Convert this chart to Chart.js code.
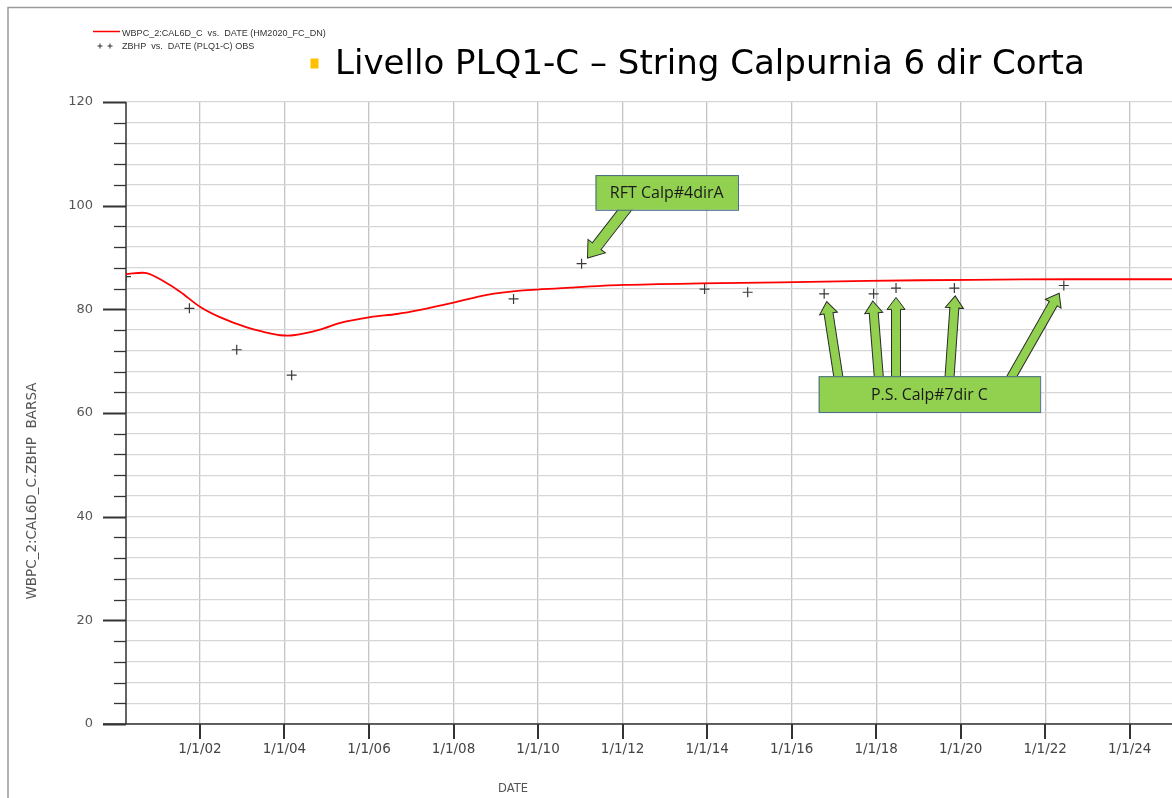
<!DOCTYPE html>
<html>
<head>
<meta charset="utf-8">
<title>Livello PLQ1-C</title>
<script src="https://cdn.jsdelivr.net/npm/chart.js@4.4.1/dist/chart.umd.min.js"></script>
<style>
  html, body { margin: 0; padding: 0; background: #fff; }
  #wrap { position: relative; width: 1172px; height: 798px; }
</style>
</head>
<body>
<div id="wrap"><canvas id="plqChart"></canvas></div>
<script>
// Simulated BHP (HM2020_FC_DN), x in decimal years
const simDates = [2000.25, 2000.74, 2001.12, 2001.53, 2002.0, 2002.47, 2003.11, 2003.58, 2003.90, 2004.21,
                  2004.84, 2005.32, 2006.03, 2006.66, 2007.21, 2008.0, 2008.79, 2009.58, 2010.77, 2012.02,
                  2013.85, 2015.74, 2017.8, 2020.29, 2022.6, 2025.0];
const simBarsa = [86.8, 87.0, 85.5, 83.4, 80.5, 78.5, 76.5, 75.5, 75.0, 75.0,
                  76.1, 77.4, 78.5, 79.1, 79.9, 81.3, 82.8, 83.6, 84.2, 84.7,
                  85.0, 85.2, 85.5, 85.7, 85.8, 85.8];

// Observed ZBHP (PLQ1-C OBS)
const obsDates = [2000.25, 2001.75, 2002.87, 2004.17, 2009.42, 2011.03, 2013.94, 2014.96, 2016.77, 2017.94, 2018.47, 2019.85, 2022.44];
const obsBarsa = [86.3, 80.2, 72.2, 67.3, 82.0, 88.8, 83.9, 83.3, 83.0, 83.0, 84.1, 84.1, 84.6];

// x axis ticks
const tickDates = [2002, 2004, 2006, 2008, 2010, 2012, 2014, 2016, 2018, 2020, 2022, 2024];
const tickLabels = ['1/1/02', '1/1/04', '1/1/06', '1/1/08', '1/1/10', '1/1/12', '1/1/14', '1/1/16', '1/1/18', '1/1/20', '1/1/22', '1/1/24'];

// callouts (box corners and arrows in data units: base -> tip)
const callouts = [
  { text: 'RFT Calp#4dirA', box: [2011.36, 105.9, 2014.73, 99.2],
    arrows: [[2012.15, 100.2, 2011.17, 89.9]] },
  { text: 'P.S. Calp#7dir C', box: [2016.64, 67.1, 2021.88, 60.2],
    arrows: [[2017.12, 66.2, 2016.83, 81.5], [2018.07, 66.2, 2017.92, 81.6], [2018.47, 66.2, 2018.47, 82.3],
             [2019.73, 66.2, 2019.87, 82.6], [2021.15, 66.2, 2022.33, 83.1]] }
];

function fitFont(ctx, text, family, targetW, base) {
  ctx.font = base + 'px ' + family;
  const w = ctx.measureText(text).width;
  ctx.font = (base * targetW / w).toFixed(2) + 'px ' + family;
}

function drawArrow(ctx, x0, y0, x1, y1, shaft, headW, headL) {
  const a = Math.atan2(y1 - y0, x1 - x0);
  const len = Math.hypot(x1 - x0, y1 - y0);
  ctx.save();
  ctx.translate(x0, y0);
  ctx.rotate(a);
  ctx.beginPath();
  ctx.moveTo(0, -shaft / 2);
  ctx.lineTo(len - headL, -shaft / 2);
  ctx.lineTo(len - headL, -headW / 2);
  ctx.lineTo(len, 0);
  ctx.lineTo(len - headL, headW / 2);
  ctx.lineTo(len - headL, shaft / 2);
  ctx.lineTo(0, shaft / 2);
  ctx.closePath();
  ctx.fillStyle = '#92d050';
  ctx.fill();
  ctx.strokeStyle = '#2b2b2b';
  ctx.lineWidth = 1;
  ctx.stroke();
  ctx.restore();
}

const decor = {
  id: 'decor',
  beforeDatasetsDraw(chart) {
    const ctx = chart.ctx, xs = chart.scales.x, ys = chart.scales.y;
    const area = chart.chartArea;
    ctx.save();
    ctx.strokeStyle = '#333';
    // y ticks
    for (let v = 0; v <= 120; v += 4) {
      const py = Math.round(ys.getPixelForValue(v)) + 0.5;
      const major = v % 20 === 0;
      ctx.lineWidth = major ? 2 : 1.3;
      ctx.beginPath();
      ctx.moveTo(major ? 103 : 114, py);
      ctx.lineTo(area.left, py);
      ctx.stroke();
    }
    // x ticks
    ctx.lineWidth = 2;
    tickDates.forEach(d => {
      const px = Math.round(xs.getPixelForValue(d));
      ctx.beginPath();
      ctx.moveTo(px, area.bottom);
      ctx.lineTo(px, area.bottom + 15);
      ctx.stroke();
    });
    // axis lines
    ctx.lineWidth = 1.5;
    ctx.beginPath();
    ctx.moveTo(area.left, area.top);
    ctx.lineTo(area.left, area.bottom);
    ctx.moveTo(103, area.bottom);
    ctx.lineTo(area.right, area.bottom);
    ctx.stroke();
    ctx.restore();
  },
  afterDraw(chart) {
    const ctx = chart.ctx, xs = chart.scales.x, ys = chart.scales.y;
    ctx.save();
    // outer frame
    ctx.strokeStyle = '#9a9a9a';
    ctx.lineWidth = 1.5;
    ctx.beginPath();
    ctx.moveTo(8, 798);
    ctx.lineTo(8, 7.5);
    ctx.lineTo(1172, 7.5);
    ctx.stroke();

    // legend
    ctx.strokeStyle = '#ff0000';
    ctx.lineWidth = 1.5;
    ctx.beginPath();
    ctx.moveTo(93, 31.5);
    ctx.lineTo(120, 31.5);
    ctx.stroke();
    ctx.strokeStyle = '#333';
    ctx.lineWidth = 1;
    [100, 110].forEach(cx => {
      ctx.beginPath();
      ctx.moveTo(cx - 2.5, 46); ctx.lineTo(cx + 2.5, 46);
      ctx.moveTo(cx, 43.5); ctx.lineTo(cx, 48.5);
      ctx.stroke();
    });
    ctx.fillStyle = '#333';
    ctx.textAlign = 'left';
    ctx.textBaseline = 'middle';
    const leg1 = 'WBPC_2:CAL6D_C  vs.  DATE (HM2020_FC_DN)';
    const leg2 = 'ZBHP  vs.  DATE (PLQ1-C) OBS';
    fitFont(ctx, leg1, '"Liberation Sans", Arial, sans-serif', 204, 9);
    ctx.fillText(leg1, 122, 33);
    ctx.fillText(leg2, 122, 46.5);

    // title
    ctx.fillStyle = '#ffc000';
    ctx.fillRect(310.5, 58.5, 8, 10);
    ctx.fillStyle = '#000';
    ctx.textBaseline = 'alphabetic';
    const title = 'Livello PLQ1-C \u2013 String Calpurnia 6 dir Corta';
    fitFont(ctx, title, '"DejaVu Sans", Verdana, sans-serif', 750, 30);
    ctx.fillText(title, 335, 74);

    // axis titles
    ctx.fillStyle = '#555';
    ctx.textAlign = 'center';
    ctx.textBaseline = 'middle';
    ctx.font = '11.5px "DejaVu Sans", sans-serif';
    ctx.fillText('DATE', 513, 789);
    const yTitle = 'WBPC_2:CAL6D_C.ZBHP  BARSA';
    ctx.save();
    ctx.translate(32, 491);
    ctx.rotate(-Math.PI / 2);
    fitFont(ctx, yTitle, '"DejaVu Sans", sans-serif', 217, 12);
    ctx.fillText(yTitle, 0, 0);
    ctx.restore();

    // callouts
    callouts.forEach(c => {
      const big = c.arrows.length === 1;
      c.arrows.forEach(a => {
        drawArrow(ctx, xs.getPixelForValue(a[0]), ys.getPixelForValue(a[1]),
                  xs.getPixelForValue(a[2]), ys.getPixelForValue(a[3]),
                  big ? 11 : 9, big ? 22 : 18, big ? 15 : 12);
      });
      const x0 = xs.getPixelForValue(c.box[0]), y0 = ys.getPixelForValue(c.box[1]);
      const x1 = xs.getPixelForValue(c.box[2]), y1 = ys.getPixelForValue(c.box[3]);
      ctx.fillStyle = '#92d050';
      ctx.fillRect(x0, y0, x1 - x0, y1 - y0);
      ctx.strokeStyle = '#4a6a8a';
      ctx.lineWidth = 1;
      ctx.strokeRect(x0 + 0.5, y0 + 0.5, x1 - x0, y1 - y0);
      ctx.fillStyle = '#1a1a1a';
      ctx.textAlign = 'center';
      ctx.textBaseline = 'middle';
      fitFont(ctx, c.text, '"Open Sans", "Liberation Sans", sans-serif', big ? 114 : 117, 16);
      ctx.fillText(c.text, (x0 + x1) / 2, (y0 + y1) / 2 + 1);
    });
    ctx.restore();
  }
};

const ctx = document.getElementById('plqChart').getContext('2d');
const plqChart = new Chart(ctx, {
  type: 'scatter',
  data: {
    datasets: [
      {
        label: 'WBPC_2:CAL6D_C vs. DATE (HM2020_FC_DN)',
        data: simDates.map((d, i) => ({ x: d, y: simBarsa[i] })),
        showLine: true,
        borderColor: '#ff0000',
        borderWidth: 1.8,
        pointRadius: 0,
        tension: 0.3
      },
      {
        label: 'ZBHP vs. DATE (PLQ1-C) OBS',
        data: obsDates.map((d, i) => ({ x: d, y: obsBarsa[i] })),
        showLine: false,
        pointStyle: 'cross',
        pointRadius: 5,
        borderColor: '#3a3a3a',
        borderWidth: 1.2
      }
    ]
  },
  options: {
    responsive: true,
    maintainAspectRatio: false,
    animation: false,
    layout: { autoPadding: false, padding: { top: 102, left: 0, right: 0, bottom: 0 } },
    plugins: { legend: { display: false }, tooltip: { enabled: false } },
    scales: {
      x: {
        type: 'linear',
        min: 2000.25,
        max: 2025.0,
        afterBuildTicks: scale => { scale.ticks = tickDates.map(v => ({ value: v })); },
        afterFit: scale => { scale.height = 74; scale.paddingRight = 0; },
        ticks: {
          autoSkip: false,
          maxRotation: 0,
          padding: 17,
          color: '#444',
          font: { family: '"DejaVu Sans", sans-serif', size: 13.5 },
          callback: (v) => tickLabels[tickDates.indexOf(v)]
        },
        grid: { color: '#c4c4c4', lineWidth: 1.3, drawTicks: false },
        border: { display: false }
      },
      y: {
        min: 0,
        max: 120,
        afterFit: scale => { scale.width = 126; },
        ticks: {
          stepSize: 4,
          autoSkip: false,
          padding: 33,
          color: '#555',
          font: { family: '"DejaVu Sans", sans-serif', size: 13 },
          callback: v => (v % 20 === 0 ? v : '')
        },
        grid: { color: '#d6d6d6', lineWidth: 1.3, drawTicks: false },
        border: { display: false }
      }
    }
  },
  plugins: [decor]
});
</script>
</body>
</html>
